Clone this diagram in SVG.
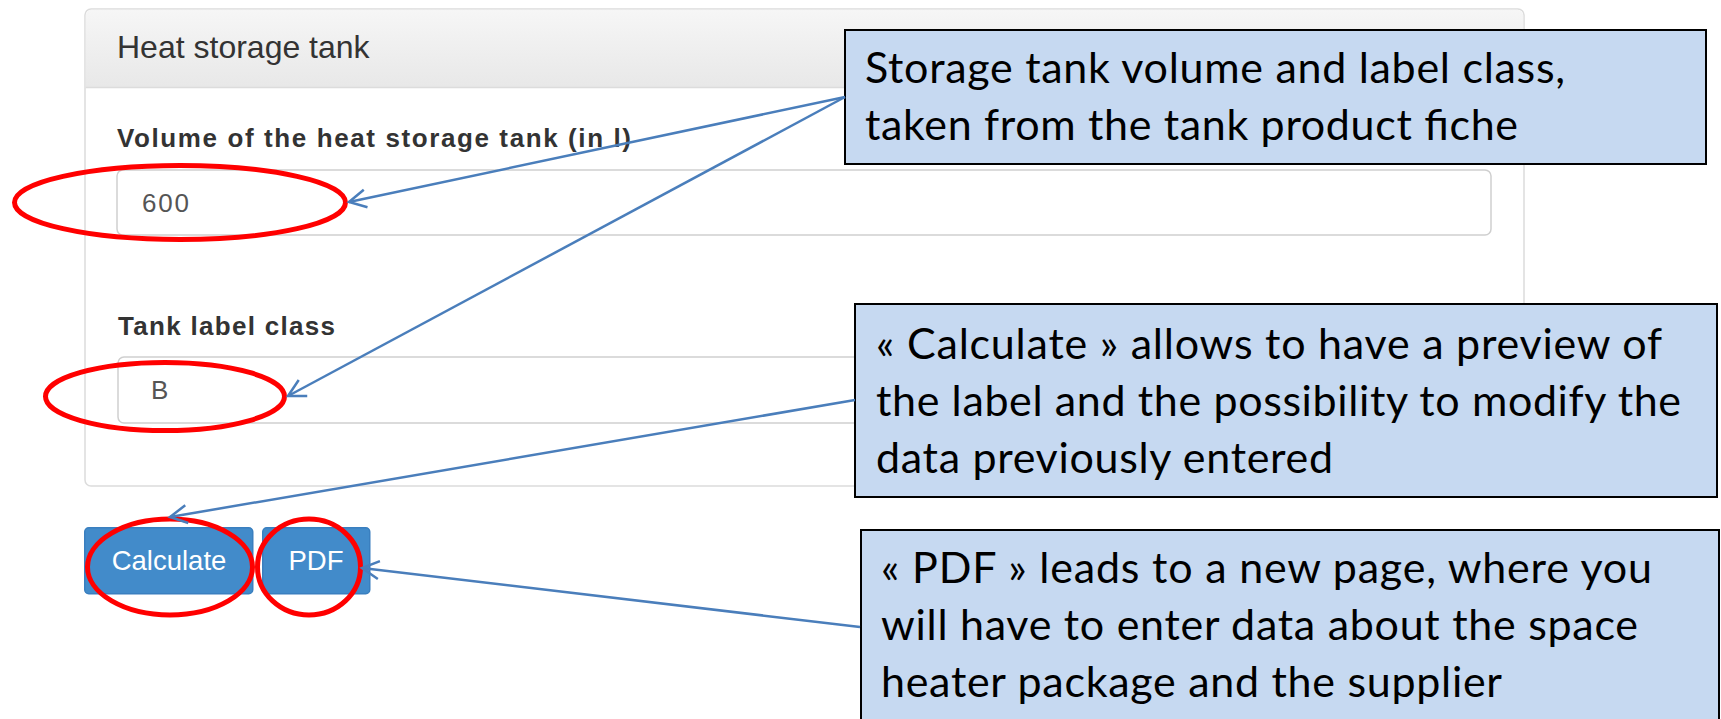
<svg xmlns="http://www.w3.org/2000/svg" width="1721" height="719" viewBox="0 0 1721 719">
<style>
.panel{fill:#fff;stroke:#dcdcdc;stroke-width:1.5}
.field{fill:#fff;stroke:#cfcfcf;stroke-width:1.5}
.title{font-family:"Liberation Sans",Arial,sans-serif;font-size:32px;fill:#333}
.lbl{font-family:"Liberation Sans",Arial,sans-serif;font-size:26px;font-weight:bold;fill:#333}
.val{font-family:"Liberation Sans",Arial,sans-serif;font-size:26px;fill:#555}
.btn{fill:#428bca;stroke:#3a7fbf;stroke-width:1.5}
.btxt{font-family:"Liberation Sans",Arial,sans-serif;font-size:27.5px;fill:#fff;text-anchor:middle}
.ring{fill:none;stroke:#ff0000;stroke-width:5}
.note{fill:#c6d9f1;stroke:#000;stroke-width:2}
.ntxt{font-family:Lato,"Open Sans",sans-serif;font-size:43px;fill:#000}
.conn{fill:none;stroke:#4a7ebb;stroke-width:2.5}
</style>
<defs>
<linearGradient id="hdr" x1="0" y1="0" x2="0" y2="1">
<stop offset="0" stop-color="#f6f6f6"/>
<stop offset="1" stop-color="#e8e8e8"/>
</linearGradient>
<marker id="arr" viewBox="0 0 20 20" refX="18" refY="10" markerWidth="20" markerHeight="20" markerUnits="userSpaceOnUse" orient="auto" overflow="visible">
<path d="M1,1 L18,10 L1,19" fill="none" stroke="#4a7ebb" stroke-width="2.5"/>
</marker>
</defs>

<g id="panel">
<rect class="panel" x="85" y="9" width="1439" height="477" rx="6"/>
<path d="M85.75,87 V15 a6,6 0 0 1 6,-5.25 H1517 a6,6 0 0 1 6.25,6 V87 Z" fill="url(#hdr)"/>
<line x1="85.75" y1="87.5" x2="1523.25" y2="87.5" stroke="#dcdcdc" stroke-width="1.5"/>
<text class="title" x="117" y="58">Heat storage tank</text>
</g>

<g id="volume-field">
<text class="lbl" x="117" y="147" textLength="514">Volume of the heat storage tank (in l)</text>
<rect class="field" x="117" y="170" width="1374" height="65" rx="6"/>
<text class="val" x="142" y="212" textLength="47">600</text>
</g>

<g id="class-field">
<text class="lbl" x="118" y="335" textLength="217">Tank label class</text>
<rect class="field" x="118" y="357" width="1374" height="66" rx="6"/>
<text class="val" x="151" y="399">B</text>
</g>

<g id="btn-calculate">
<rect class="btn" x="84.75" y="527.75" width="168" height="66" rx="4"/>
<text class="btxt" x="169" y="570">Calculate</text>
</g>

<g id="btn-pdf">
<rect class="btn" x="262.75" y="527.75" width="107" height="66" rx="4"/>
<text class="btxt" x="316" y="570">PDF</text>
</g>

<g id="highlights">
<ellipse class="ring" cx="180" cy="202.5" rx="165.5" ry="37"/>
<ellipse class="ring" cx="165" cy="396.5" rx="119.5" ry="34"/>
<ellipse class="ring" cx="170" cy="567" rx="82.5" ry="48"/>
<ellipse class="ring" cx="309" cy="567" rx="51.5" ry="48"/>
</g>

<g id="note-tank">
<rect class="note" x="845" y="30" width="861" height="134"/>
<text class="ntxt" x="865" y="83" textLength="700">Storage tank volume and label class,</text>
<text class="ntxt" x="865" y="140" textLength="653">taken from the tank product fiche</text>
</g>

<g id="note-calculate">
<rect class="note" x="855" y="304" width="862" height="193"/>
<text class="ntxt" x="876" y="359" textLength="786">« Calculate » allows to have a preview of</text>
<text class="ntxt" x="876" y="416" textLength="805">the label and the possibility to modify the</text>
<text class="ntxt" x="876" y="473" textLength="457">data previously entered</text>
</g>

<g id="note-pdf">
<rect class="note" x="861" y="530" width="858" height="200"/>
<text class="ntxt" x="881" y="583" textLength="771">« PDF » leads to a new page, where you</text>
<text class="ntxt" x="881" y="640" textLength="757">will have to enter data about the space</text>
<text class="ntxt" x="881" y="697" textLength="621">heater package and the supplier</text>
</g>

<g id="connectors">
<line class="conn" x1="845" y1="97" x2="349" y2="202" marker-end="url(#arr)"/>
<line class="conn" x1="845" y1="97" x2="288" y2="396" marker-end="url(#arr)"/>
<line class="conn" x1="855" y1="400" x2="170" y2="517" marker-end="url(#arr)"/>
<line class="conn" x1="860" y1="627" x2="362" y2="568" marker-end="url(#arr)"/>
</g>
</svg>
